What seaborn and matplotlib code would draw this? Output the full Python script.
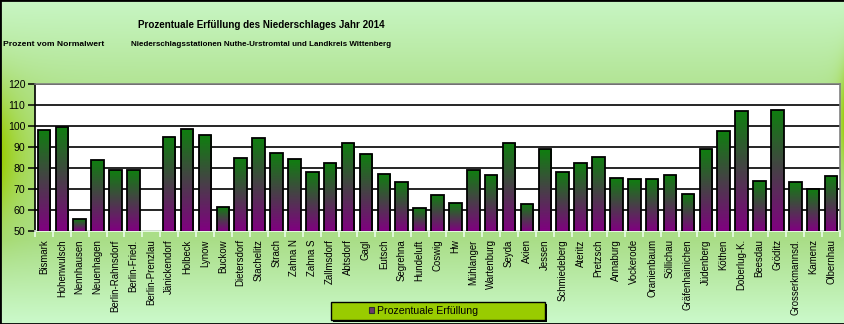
import numpy as np
import pandas as pd
import matplotlib
matplotlib.use("Agg")
import matplotlib.pyplot as plt
import seaborn as sns
from matplotlib.patches import Rectangle
from matplotlib.colors import LinearSegmentedColormap
from matplotlib.ticker import FixedLocator

# ---------------- data ----------------
stations = ["Bismark", "Hohenwulsch", "Nennhausen", "Neuenhagen", "Berlin-Rahnsdorf",
            "Berlin-Fried.", "Berlin-Prenzlau", "Jänickendorf", "Holbeck", "Lynow",
            "Buckow", "Dietersdorf", "Stachelitz", "Strach", "Zahna N", "Zahna S",
            "Zallmsdorf", "Abtsdorf", "Gagl", "Eutsch", "Segrehna", "Hundeluft",
            "Coswig", "Hw", "Mühlanger", "Wartenburg", "Seyda", "Axien", "Jessen",
            "Schmiedeberg", "Ateritz", "Pretzsch", "Annaburg", "Vockerode",
            "Oranienbaum", "Söllichau", "Gräfenhainichen", "Jüdenberg", "Köthen",
            "Doberlug-K.", "Beesdau", "Gröditz", "Grosserkmannsd.", "Kamenz", "Olbernhau"]
prozent = [98.1, 99.6, 55.6, 83.7, 79.0,
           79.0, np.nan, 94.7, 98.5, 95.7,
           61.3, 84.7, 94.2, 87.1, 84.2, 78.0,
           82.3, 91.9, 86.6, 77.1, 73.2, 60.8,
           67.0, 63.2, 79.0, 76.6, 91.9, 62.7, 89.0,
           78.0, 82.3, 85.2, 75.2, 74.7,
           74.7, 76.6, 67.5, 89.0, 97.6,
           107.1, 73.7, 107.6, 73.2, 69.9, 76.1]
yticks = [50, 60, 70, 80, 90, 100, 110, 120]
title = "Prozentuale Erfüllung des Niederschlages Jahr 2014"
subtitle = "Niederschlagsstationen Nuthe-Urstromtal und Landkreis Wittenberg"
ylabel_text = "Prozent vom Normalwert"
legend_label = "Prozentuale Erfüllung"

# ---------------- style ----------------
sns.set_theme(style="white")
plt.rcParams["font.family"] = ["Liberation Sans", "DejaVu Sans"]

W, H = 845, 324
fig = plt.figure(figsize=(W / 100, H / 100), dpi=100)

# background gradient
ys = np.arange(H)
stops_y = [0, 85, 240, 324]
cols = np.array([[200, 246, 196], [178, 228, 148], [170, 222, 136], [204, 250, 204]]) / 255
base = np.stack([np.interp(ys, stops_y, cols[:, c]) for c in range(3)], axis=-1)
img = np.repeat(base[:, None, :], W, axis=1)
yy = ys[:, None]
xx = np.arange(W)[None, :]
yg = np.array([153, 204, 0]) / 255
wl = np.exp(-xx / 26.0) * np.exp(-((yy - 155) / 65.0) ** 2)
wr = np.exp(-(W - 1 - xx) / 6.0) * np.exp(-((yy - 120) / 50.0) ** 2)
w = np.clip(wl + wr, 0, 1)[..., None]
img = img * (1 - w) + yg * w
bg = fig.add_axes([0, 0, 1, 1], zorder=-10)
bg.imshow(img, aspect="auto", extent=[0, 1, 0, 1], origin="upper")
bg.axis("off")

# main axes
ax = fig.add_axes([35 / W, 1 - 231 / H, 805 / W, 147 / H])
ax.set_facecolor("white")
df = pd.DataFrame({"Station": stations, "Prozent": prozent})
sns.barplot(data=df, x="Station", y="Prozent", order=stations, color="#408040",
            width=0.7, edgecolor="black", linewidth=1.3, errorbar=None, ax=ax, zorder=3)

cmap = LinearSegmentedColormap.from_list("gp", ["#800080", "#0f7f0f"])
grad = np.linspace(0, 1, 256)[:, None]
for p in list(ax.patches):
    h = p.get_height()
    if h is None or np.isnan(h) or h <= 50:
        continue
    x0, wd = p.get_x(), p.get_width()
    im = ax.imshow(grad, cmap=cmap, aspect="auto", origin="lower",
                   extent=[x0, x0 + wd, 50, h], zorder=3.5, interpolation="bilinear")
    im.set_clip_path(p)
    p.set_facecolor("none")
    p.set_zorder(4)

ax.set_xlim(-0.5, len(stations) - 0.5)
ax.set_ylim(50, 120)
ax.set_yticks(yticks)
ax.yaxis.grid(True, color="black", linewidth=1.2)
ax.set_axisbelow(True)
ax.set_xlabel("")
ax.set_ylabel("")

for s in ["top", "right"]:
    ax.spines[s].set_color("#808080")
    ax.spines[s].set_linewidth(1.2)
ax.spines["left"].set_color("black")
ax.spines["left"].set_linewidth(1.2)
ax.spines["bottom"].set_color("#f0fff0")
ax.spines["bottom"].set_linewidth(1.2)

ax.tick_params(axis="y", which="major", direction="out", length=5, width=1.1,
               color="black", labelsize=7.6, pad=2, labelcolor="black", left=True)
ax.xaxis.set_minor_locator(FixedLocator(np.arange(-0.5, len(stations), 1.0)))
ax.tick_params(axis="x", which="minor", direction="out", length=4, width=1.1,
               color="#f0fff0", bottom=True)
ax.tick_params(axis="x", which="major", length=0, pad=6, bottom=True)
ax.set_xticks(range(len(stations)))
ax.set_xticklabels(stations, rotation=90, fontsize=6.9, color="black", va="top")

# texts
fig.text(261 / W, 1 - 25.5 / H, title, ha="center", va="center", fontsize=7.1,
         fontweight="bold", color="black")
fig.text(261 / W, 1 - 45 / H, subtitle, ha="center", va="center", fontsize=5.8,
         fontweight="bold", color="black")
fig.text(3 / W, 1 - 44 / H, ylabel_text, ha="left", va="center", fontsize=6.1,
         fontweight="bold", color="black")

# legend box
tf = fig.transFigure
fig.patches.append(Rectangle((333 / W, 1 - 322 / H), 214 / W, 18 / H, transform=tf,
                             facecolor="black", edgecolor="none", zorder=5))
fig.patches.append(Rectangle((331 / W, 1 - 320 / H), 214 / W, 18 / H, transform=tf,
                             facecolor="#99cc00", edgecolor="black", linewidth=1.0, zorder=6))
fig.patches.append(Rectangle((369 / W, 1 - 312.5 / H), 5.5 / W, 5.5 / H, transform=tf,
                             facecolor="#6b3a6b", edgecolor="#303030", linewidth=0.8, zorder=7))
fig.text(377.5 / W, 1 - 310.5 / H, legend_label, ha="left", va="center", fontsize=7.6,
         color="black", zorder=8)

# outer border
fig.patches.append(Rectangle((0, 0), 1, 1, transform=tf, fill=False,
                             edgecolor="black", linewidth=2.0, zorder=20))

fig.savefig("out.png", dpi=100)
